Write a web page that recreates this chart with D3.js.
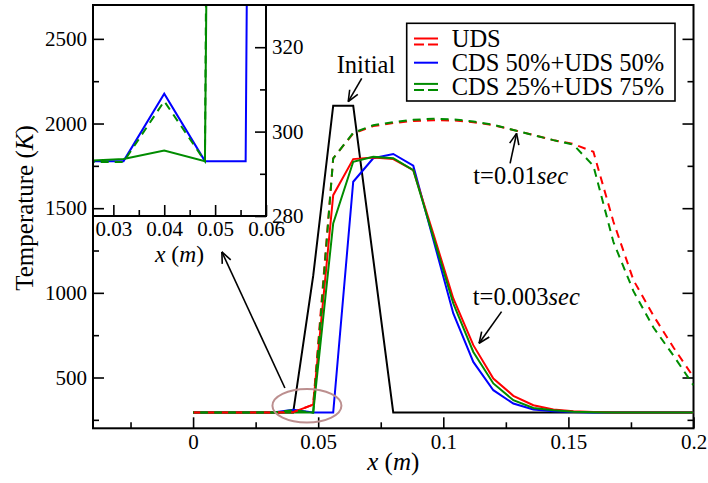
<!DOCTYPE html>
<html><head><meta charset="utf-8">
<script src="https://cdn.jsdelivr.net/npm/d3@7"></script>
<style>
body{margin:0;background:#fff}
text{font-family:"Liberation Serif","Times New Roman",serif;fill:#000}
</style>
</head><body><svg id="c" width="708" height="483"></svg>
<script>
// ---------- data ----------
const xNodes = [0,0.008,0.016,0.024,0.032,0.04,0.048,0.056,0.064,0.072,0.08,0.088,0.096,0.104,0.112,0.12,0.128,0.136,0.144,0.152,0.16,0.168,0.176,0.184,0.192,0.2];
const initialT  = [293,293,293,293,293,293,1100,2105,2105,1200,293,293,293,293,293,293,293,293,293,293,293,293,293,293,293,293];
const udsT003   = [293,293,293,293,293,295,340,1577,1790,1800,1790,1725,1350,967,691,494,392,336,311,300,296,294,293,293,293,293];
const cds50T003 = [293,293,293,293,293,309,293,293,1656,1795,1820,1751,1315,878,592,425,346,311,300,296,294,293,293,293,293,293];
const cds25T003 = [293,293,293,293,293.5,295.5,293,1410,1774,1803,1795,1725,1330,937,651,465,366,320,306,298,295,293,293,293,293,293];
const udsT01    = [293,293,293,293,293,295,340,1794,1942,1985,2003,2015,2020,2018,2008,1990,1962,1932,1902,1879,1833,1420,1075,865,677,503];
const cds25T01  = [293,293,293,292.8,292.8,307.2,293,1794,1945,1990,2008,2022,2028,2025,2012,1992,1962,1932,1902,1875,1750,1300,1010,795,629,454];

const xTicksMain = [0,0.05,0.1,0.15,0.2];
const xTickLabelsMain = ["0","0.05","0.1","0.15","0.2"];
const xMinorMain = [-0.025,0.025,0.075,0.125,0.175];
const yTicksMain = [500,1000,1500,2000,2500];
const yMinorMain = [250,750,1250,1750,2250];
const xTicksInset = [0.03,0.04,0.05,0.06];
const xMinorInset = [0.035,0.045,0.055];
const yTicksInset = [280,300,320];
const yMinorInset = [290,310];
const legendLabels = ["UDS","CDS 50%+UDS 50%","CDS 25%+UDS 75%"];

// ---------- setup ----------
const svg = d3.select("#c");
const M = {l:93, r:693.5, t:5, b:428.3};
const x = d3.scaleLinear().domain([-0.04,0.2]).range([M.l,M.r]);
const y = d3.scaleLinear().domain([200,2700]).range([M.b,M.t]);
const I = {l:93, r:266, t:5, b:216};
const xi = d3.scaleLinear().domain([0.026,0.06]).range([I.l,I.r]);
const yi = d3.scaleLinear().domain([280,330]).range([I.b,I.t]);

const RED="#ff0000", BLUE="#0000ff", GREEN="#008c00";

svg.append("clipPath").attr("id","cm").append("rect")
  .attr("x",M.l).attr("y",M.t).attr("width",M.r-M.l).attr("height",M.b-M.t);
svg.append("clipPath").attr("id","ci").append("rect")
  .attr("x",I.l).attr("y",I.t).attr("width",I.r-I.l).attr("height",I.b-I.t);

function styleAxis(g, fs){
  g.attr("font-family",null);
  g.select(".domain").remove();
  g.selectAll(".tick line").attr("stroke","#000").attr("stroke-width",1.6);
  g.selectAll("text").style("font-family",'"Liberation Serif",serif').style("font-size",fs+"px").attr("fill","#000");
}

// ---------- main axes ----------
const gxb = svg.append("g").attr("transform",`translate(0,${M.b})`)
  .call(d3.axisBottom(x).tickValues(xTicksMain).tickFormat((d,i)=>xTickLabelsMain[i]).tickSize(-11).tickPadding(6));
styleAxis(gxb,21);
const gxbm = svg.append("g").attr("transform",`translate(0,${M.b})`)
  .call(d3.axisBottom(x).tickValues(xMinorMain).tickFormat("").tickSize(-6));
styleAxis(gxbm,21);

const gyl = svg.append("g").attr("transform",`translate(${M.l},0)`)
  .call(d3.axisLeft(y).tickValues(yTicksMain).tickFormat(d3.format("d")).tickSize(-11).tickPadding(6));
styleAxis(gyl,21);
const gylm = svg.append("g").attr("transform",`translate(${M.l},0)`)
  .call(d3.axisLeft(y).tickValues(yMinorMain).tickFormat("").tickSize(-6));
styleAxis(gylm,21);
const gyr = svg.append("g").attr("transform",`translate(${M.r},0)`)
  .call(d3.axisRight(y).tickValues(yTicksMain).tickFormat("").tickSize(-11));
styleAxis(gyr,21);
const gyrm = svg.append("g").attr("transform",`translate(${M.r},0)`)
  .call(d3.axisRight(y).tickValues(yMinorMain).tickFormat("").tickSize(-6));
styleAxis(gyrm,21);

svg.append("rect").attr("x",M.l).attr("y",M.t).attr("width",M.r-M.l).attr("height",M.b-M.t)
  .attr("fill","none").attr("stroke","#000").attr("stroke-width",2);

// axis titles
const xt = svg.append("text").attr("x",(M.l+M.r)/2).attr("y",470).attr("text-anchor","middle").style("font-size","25px");
xt.append("tspan").style("font-style","italic").text("x");
xt.append("tspan").text(" (");
xt.append("tspan").style("font-style","italic").text("m");
xt.append("tspan").text(")");

const yt = svg.append("text").attr("transform",`translate(33,208) rotate(-90)`).attr("text-anchor","middle").style("font-size","25px");
yt.append("tspan").text("Temperature (");
yt.append("tspan").style("font-style","italic").text("K");
yt.append("tspan").text(")");

// ---------- main lines ----------
const line = d3.line().x(d=>x(d[0])).y(d=>y(d[1]));
const pts = arr => xNodes.map((v,i)=>[v,arr[i]]);
const gl = svg.append("g").attr("clip-path","url(#cm)");
const series = [
  {v:initialT, c:"#000", dash:null},
  {v:cds50T003, c:BLUE, dash:null},
  {v:udsT003, c:RED, dash:null},
  {v:cds25T003, c:GREEN, dash:null},
  {v:udsT01, c:RED, dash:"8,6", off:0},
  {v:cds25T01, c:GREEN, dash:"8,6", off:7}
];
series.forEach(s=>{
  gl.append("path").attr("d",line(pts(s.v))).attr("fill","none")
    .attr("stroke",s.c).attr("stroke-width",2)
    .attr("stroke-dasharray",s.dash).attr("stroke-dashoffset",s.off||0)
    .attr("stroke-linejoin","miter");
});

// ---------- inset ----------
const gib = svg.append("g").attr("transform",`translate(0,${I.b})`)
  .call(d3.axisBottom(xi).tickValues(xTicksInset).tickFormat(d3.format(".2f")).tickSize(-11).tickPadding(5));
styleAxis(gib,21);
const gibm = svg.append("g").attr("transform",`translate(0,${I.b})`)
  .call(d3.axisBottom(xi).tickValues(xMinorInset).tickFormat("").tickSize(-6));
styleAxis(gibm,21);
const gir = svg.append("g").attr("transform",`translate(${I.r},0)`)
  .call(d3.axisRight(yi).tickValues(yTicksInset).tickFormat(d3.format("d")).tickSize(-11).tickPadding(6));
styleAxis(gir,21);
const girm = svg.append("g").attr("transform",`translate(${I.r},0)`)
  .call(d3.axisRight(yi).tickValues(yMinorInset).tickFormat("").tickSize(-6));
styleAxis(girm,21);

const linei = d3.line().x(d=>xi(d[0])).y(d=>yi(d[1]));
const gi = svg.append("g").attr("clip-path","url(#ci)");
[{v:cds50T003,c:BLUE,dash:null},{v:cds25T01,c:GREEN,dash:"8,6"},{v:cds25T003,c:GREEN,dash:null}].forEach(s=>{
  gi.append("path").attr("d",linei(pts(s.v))).attr("fill","none")
    .attr("stroke",s.c).attr("stroke-width",2).attr("stroke-dasharray",s.dash);
});
svg.append("rect").attr("x",I.l).attr("y",I.t).attr("width",I.r-I.l).attr("height",I.b-I.t)
  .attr("fill","none").attr("stroke","#000").attr("stroke-width",2);
const xti = svg.append("text").attr("x",(I.l+I.r)/2).attr("y",262).attr("text-anchor","middle").style("font-size","23.5px");
xti.append("tspan").style("font-style","italic").text("x");
xti.append("tspan").text(" (");
xti.append("tspan").style("font-style","italic").text("m");
xti.append("tspan").text(")");

// ---------- annotations ----------
function arrow(x1,y1,x2,y2){
  svg.append("line").attr("x1",x1).attr("y1",y1).attr("x2",x2).attr("y2",y2).attr("stroke","#000").attr("stroke-width",1.6);
  const a = Math.atan2(y2-y1,x2-x1), L=12, w=0.4;
  [a+Math.PI-w, a+Math.PI+w].forEach(b=>{
    svg.append("line").attr("x1",x2).attr("y1",y2).attr("x2",x2+L*Math.cos(b)).attr("y2",y2+L*Math.sin(b))
      .attr("stroke","#000").attr("stroke-width",1.6);
  });
}
function label(px,py,main,ital){
  const t = svg.append("text").attr("x",px).attr("y",py).style("font-size","24.5px");
  t.append("tspan").text(main);
  if(ital) t.append("tspan").style("font-style","italic").text(ital);
}
label(x(0.0574), y(2297), "Initial");
arrow(x(0.0674), y(2267), x(0.062), y(2129));
label(x(0.112), y(1643), "t=0.01", "sec");
arrow(x(0.1267), y(1765), x(0.1293), y(1942));
label(x(0.1118), y(928), "t=0.003", "sec");
arrow(x(0.1233), y(889), x(0.1143), y(702));

svg.append("ellipse").attr("cx",x(0.0455)).attr("cy",y(333)).attr("rx",34.5).attr("ry",16.7)
  .attr("fill","none").attr("stroke","#bc8f8f").attr("stroke-width",2);
arrow(x(0.0367), y(438), x(0.0115), y(1242));

// ---------- legend ----------
const lg = svg.append("g");
lg.append("rect").attr("x",406.7).attr("y",23.3).attr("width",268.3).attr("height",77.7)
  .attr("fill","#fff").attr("stroke","#000").attr("stroke-width",1.6);
const legendSwatches = [
  [{c:RED,dash:null,dy:-8},{c:RED,dash:"10,4",dy:-2}],
  [{c:BLUE,dash:null,dy:-8}],
  [{c:GREEN,dash:null,dy:-11},{c:GREEN,dash:"10,4",dy:-5}]
];
legendLabels.forEach((lab,i)=>{
  const by = 46.5 + i*24.2;
  legendSwatches[i].forEach(s=>{
    lg.append("line").attr("x1",414).attr("x2",438).attr("y1",by+s.dy).attr("y2",by+s.dy)
      .attr("stroke",s.c).attr("stroke-width",2).attr("stroke-dasharray",s.dash);
  });
  lg.append("text").attr("x",451.7).attr("y",by).style("font-size","24.5px").text(lab);
});
</script>
</body></html>
